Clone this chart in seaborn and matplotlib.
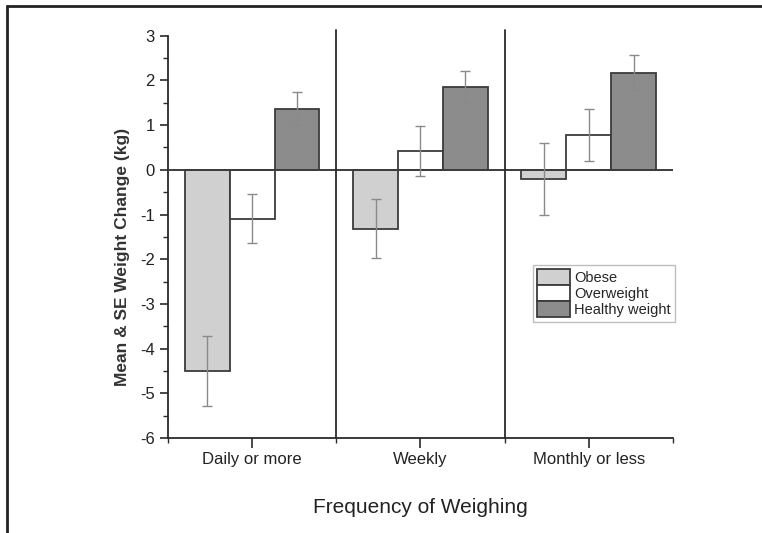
import numpy as np
import pandas as pd
import matplotlib
matplotlib.use("Agg")
import matplotlib.pyplot as plt
import seaborn as sns

# data
frequencies = ["Daily or more", "Weekly", "Monthly or less"]
groups = ["Obese", "Overweight", "Healthy weight"]
mean_obese = [-4.50, -1.32, -0.21]
mean_overweight = [-1.09, 0.42, 0.77]
mean_healthy = [1.37, 1.85, 2.17]
se_obese = [0.78, 0.66, 0.80]
se_overweight = [0.54, 0.55, 0.58]
se_healthy = [0.36, 0.35, 0.39]

means = {"Obese": mean_obese, "Overweight": mean_overweight, "Healthy weight": mean_healthy}
ses = {"Obese": se_obese, "Overweight": se_overweight, "Healthy weight": se_healthy}

rows = []
for g in groups:
    for i, f in enumerate(frequencies):
        rows.append({"freq": f, "group": g, "mean": means[g][i], "se": ses[g][i]})
df = pd.DataFrame(rows)

sns.set_style("ticks")
plt.rcParams["font.family"] = ["Liberation Sans", "DejaVu Sans"]
plt.rcParams["axes.unicode_minus"] = False

fig = plt.figure(figsize=(7.62, 5.33), dpi=100)
ax = fig.add_axes([0.2205, 0.178, 0.6625, 0.755])

palette = {"Obese": "#d0d0d0", "Overweight": "#ffffff", "Healthy weight": "#8c8c8c"}
sns.barplot(data=df, x="freq", y="mean", hue="group", hue_order=groups,
            order=frequencies, palette=palette, errorbar=None, width=0.8,
            edgecolor="#3c3c3c", linewidth=1.3, saturation=1, ax=ax)

# error bars at the bar centres
for container, g in zip(ax.containers, groups):
    xs = [p.get_x() + p.get_width() / 2 for p in container.patches]
    ax.errorbar(xs, means[g], yerr=ses[g], fmt="none", ecolor="#8a8a8a",
                elinewidth=1.0, capsize=3.6, capthick=1.0, zorder=5)

ax.set_xlim(-0.5, 2.5)
ax.set_ylim(-6, 3)
ax.set_yticks(np.arange(-6, 4, 1))
ax.set_yticks(np.arange(-6, 3.01, 0.5), minor=True)
ax.set_xticks([0, 1, 2])
ax.set_xticks([-0.5, 0.5, 1.5, 2.5], minor=True)
ax.set_xticklabels(frequencies)

ax.axhline(0, color="#3c3c3c", lw=1.4, zorder=4)
for xv in [0.5, 1.5]:
    ax.plot([xv, xv], [-6, 3.13], color="#2a2a2a", lw=1.3, clip_on=False, zorder=4)

sns.despine(ax=ax, top=True, right=True)
for s in ["left", "bottom"]:
    ax.spines[s].set_color("#2a2a2a")
    ax.spines[s].set_linewidth(1.3)
ax.tick_params(axis="both", which="major", direction="out", length=6, width=1.2,
               color="#2a2a2a", labelsize=12, labelcolor="#222222")
ax.tick_params(axis="both", which="minor", direction="out", length=3.5, width=1.0,
               color="#2a2a2a")
ax.tick_params(axis="x", which="major", length=7, pad=3)

ax.set_ylabel("Mean & SE Weight Change (kg)", fontsize=12.5, fontweight="bold",
              color="#333333")
ax.yaxis.set_label_coords(-0.075, 0.45)
ax.set_xlabel("Frequency of Weighing", fontsize=15, color="#222222", labelpad=22)

leg = ax.legend(loc="upper left", bbox_to_anchor=(0.722, 0.43), fontsize=10.5,
                frameon=True, fancybox=False, handlelength=2.3, handleheight=1.3,
                labelspacing=0.0, handletextpad=0.25, borderpad=0.3,
                borderaxespad=0.0)
leg.get_frame().set_edgecolor("#b0b0b0")
leg.get_frame().set_linewidth(1.0)

# outer frame lines (top and left)
fig.add_artist(plt.Line2D([0.009, 1.0], [0.988, 0.988], color="#222222", lw=2.0))
fig.add_artist(plt.Line2D([0.009, 0.009], [0.0, 0.988], color="#222222", lw=2.0))

fig.savefig("out.png", dpi=100)
